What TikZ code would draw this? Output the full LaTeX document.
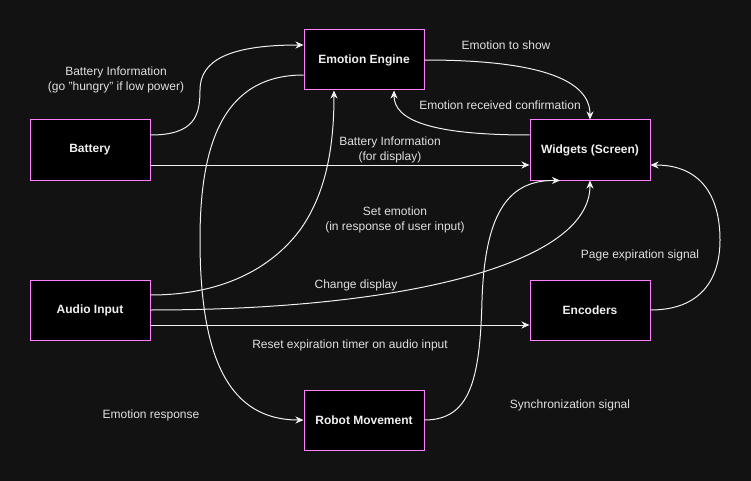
\documentclass[tikz,border=0pt]{standalone}
\usepackage{fontspec}
\setmainfont{Liberation Sans}
\usepackage{tikz}
\usetikzlibrary{calc, arrows.meta}
\definecolor{bgColor}{HTML}{121212}
\definecolor{boxBorder}{HTML}{FF80FF}
\definecolor{lineColor}{HTML}{F0F0F0}
\definecolor{labelColor}{HTML}{E0E0E0}

\begin{document}
\begin{tikzpicture}[x=1pt, y=-1pt,
    block/.style={draw=boxBorder, fill=black, line width=1pt, minimum width=120pt,
        minimum height=60pt, inner sep=0pt, text=lineColor,
        font=\fontsize{12}{15}\selectfont\bfseries},
    flow/.style={draw=lineColor, line width=1pt, -{Stealth[length=8pt, width=7pt, inset=2.5pt]}},
    note/.style={text=labelColor, align=center, inner sep=0pt,
        font=\fontsize{12}{15}\selectfont}]
    \fill[bgColor] (0,0) rectangle (751,481);
    \useasboundingbox (0,0) rectangle (751,481);
    % blocks
    \node[block] (eng) at (364,60) {Emotion Engine};
    \node[block] (bat) at (90,150) {Battery};
    \node[block] (wid) at (590,150) {Widgets (Screen)};
    \node[block] (aud) at (90,310) {Audio Input};
    \node[block] (enc) at (590,310) {Encoders};
    \node[block] (rob) at (364,420) {Robot Movement};
    % connectors
    \draw[flow] ([yshift=15pt]bat.east) .. controls (195,135) and (200,115) .. (200,90)
        .. controls (200,60) and (230,45) .. ([yshift=15pt]eng.west);
    \draw[flow] ([yshift=-15pt]bat.east) -- ([yshift=-15pt]wid.west);
    \draw[flow] ([yshift=-15pt]eng.west) .. controls (220,75) and (200,150) .. (200,240)
        .. controls (200,360) and (230,420) .. (rob.west);
    \draw[flow] ([yshift=15pt]aud.east) .. controls (220,295) and (270,270) .. (300,230)
        .. controls (325,195) and (334,150) .. ([xshift=-30pt]eng.south);
    \draw[flow] (aud.east) .. controls (400,310) and (590,265) .. (wid.south);
    \draw[flow] ([yshift=-15pt]aud.east) -- ([yshift=-15pt]enc.west);
    \draw[flow] (enc.east) .. controls (700,310) and (720,280) .. (720,240)
        .. controls (720,195) and (700,165) .. ([yshift=-15pt]wid.east);
    \draw[flow] (rob.east) .. controls (470,420) and (480,380) .. (482,300)
        .. controls (485,210) and (510,180) .. ([xshift=-30pt]wid.south);
    \draw[flow] (eng.east) .. controls (540,60) and (590,80) .. (wid.north);
    \draw[flow] ([yshift=15pt]wid.west) .. controls (430,135) and (394,120) .. ([xshift=30pt]eng.south);
    % labels
    \node[note] (lbBatEng) at (116,80) {Battery Information\\(go "hungry" if low power)};
    \node[note] (lbBatWid) at (390,150) {Battery Information\\(for display)};
    \node[note] (lbAudEng) at (395,220) {Set emotion\\(in response of user input)};
    \node[note] (lbAudWid) at (356,285) {Change display};
    \node[note] (lbAudEnc) at (350,345) {Reset expiration timer on audio input};
    \node[note] (lbEngRob) at (151,415) {Emotion response};
    \node[note] (lbRobWid) at (570,405) {Synchronization signal};
    \node[note] (lbEncWid) at (640,255) {Page expiration signal};
    \node[note] (lbEngWid) at (506,45) {Emotion to show};
    \node[note] (lbWidEng) at (500,105) {Emotion received confirmation};
\end{tikzpicture}
\end{document}
